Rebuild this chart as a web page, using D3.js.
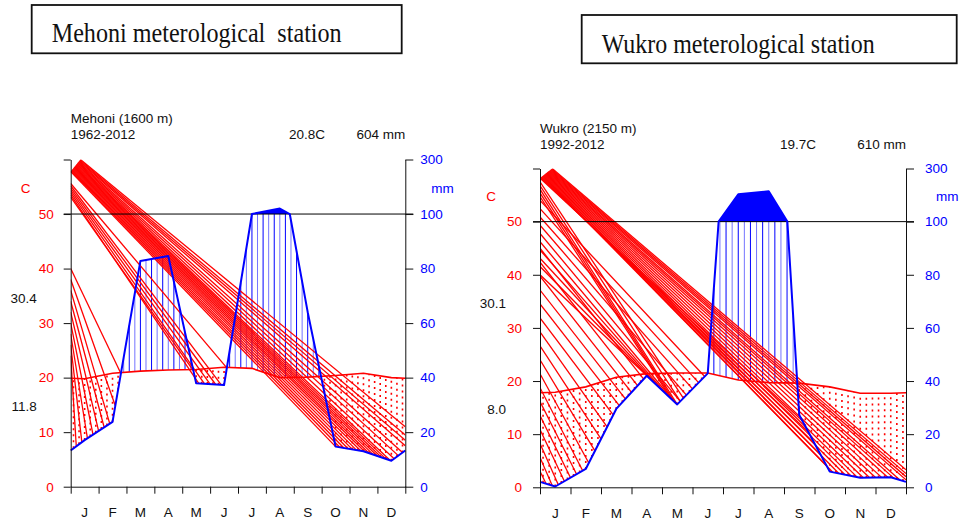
<!DOCTYPE html>
<html>
<head>
<meta charset="utf-8">
<script src="https://cdn.jsdelivr.net/npm/d3@7"></script>
<style>
  html, body { margin: 0; padding: 0; background: #fff; }
  svg { display: block; }
  text { font-family: "Liberation Sans", Arial, sans-serif; }
</style>
</head>
<body>
<svg id="chart" width="965" height="522"></svg>
<script>
// ---------------- data ----------------
const months = ["J","F","M","A","M","J","J","A","S","O","N","D"];
const tempTicks = [0, 10, 20, 30, 40, 50, 60];
const tempTickLabels = ["0", "10", "20", "30", "40", "50", ""];
const precTicks = [0, 20, 40, 60, 80, 100, 300];

const mehoniTemp = [19.8, 20.8, 21.2, 21.4, 21.5, 21.9, 21.7, 20.0, 20.1, 20.4, 20.8, 20.0];
const mehoniPrec = [17.1, 23.8, 82.8, 84.6, 37.9, 37.3, 100, 120, 64, 14.7, 13.0, 9.5];
const mehoniHeader = ["Mehoni (1600 m)", "1962-2012", "20.8C", "604 mm"];
const mehoniExtremes = ["30.4", "11.8"];
const mehoniTitle = "Mehoni meterological  station";

const wukroTemp = [17.9, 18.9, 20.7, 21.4, 21.5, 21.5, 20.2, 19.7, 19.6, 18.9, 17.7, 17.7];
const wukroPrec = [0.3, 6.9, 29.5, 42.0, 31.2, 42.9, 203, 214, 27.2, 5.9, 3.6, 3.8];
const wukroHeader = ["Wukro (2150 m)", "1992-2012", "19.7C", "610 mm"];
const wukroExtremes = ["30.1", "8.0"];
const wukroTitle = "Wukro meterological station";

// stray red strokes of the original rendering (data units: month, degC)
const mehoniStreaks = [
  { ends: [0.2, 1.8], step: 0.2, extra: [], from: [0, 24], to: [0, 40] },
  { ends: [4.4, 5.6], step: 0.2, extra: [], from: [0, 53.1], to: [0, 55.6] },
  { ends: [9.5, 11.9], step: 0.15, extra: [[12, 7.5], [12, 8.5], [12, 9.5], [12, 11]], from: [0, 57.8], to: [0.35, 60] }
];
const wukroStreaks = [
  { ends: [0.2, 3.4], step: 0.2, extra: [], from: [0, 3], to: [0, 45] },
  { ends: [3.6, 5.4], step: 0.2, extra: [], from: [0, 40], to: [0, 54] },
  { ends: [4.3, 4.7], step: 0.1, extra: [], from: [0, 54.7], to: [0, 57.5] },
  { ends: [8.6, 11.8], step: 0.2, extra: [[12, 1.4], [12, 2.0], [12, 2.6], [12, 3.3]], from: [0, 58.2], to: [0.4, 60] }
];

// ---------------- drawing ----------------
const svg = d3.select("#chart");
const RED = "#ff0000", BLUE = "#0000ff";

function titleBox(x, y, w, h, tx, ty, tlen, label) {
  svg.append("rect").attr("x", x).attr("y", y).attr("width", w).attr("height", h)
    .attr("fill", "none").attr("stroke", "#111").attr("stroke-width", 1.8);
  svg.append("text").attr("x", tx).attr("y", ty)
    .attr("font-family", "'Liberation Serif', 'Times New Roman', serif")
    .style("font-family", "'Liberation Serif', 'Times New Roman', serif")
    .attr("font-size", 27).attr("fill", "#111")
    .attr("textLength", tlen).attr("lengthAdjust", "spacingAndGlyphs")
    .style("white-space", "pre")
    .text(label);
}

titleBox(31.7, 5, 370, 48.3, 51.7, 42.3, 290, mehoniTitle);
titleBox(581.7, 15, 375, 48.3, 601.7, 52.7, 273, wukroTitle);

function drawDiagram(cfg) {
  const { L, R, top, y0, temp, prec, header, extremes, streaks, id } = cfg;
  const g = svg.append("g");
  const x = d3.scaleLinear().domain([0, 12]).range([L, R]);
  const yT = d3.scaleLinear().domain([0, 60]).range([y0, top]);
  const yP = d3.scaleLinear().domain([0, 100, 300]).range([y0, yT(50), yT(60)]);

  const xs = [0, ...d3.range(12).map(i => i + 0.5), 12];
  const tEdge = (temp[11] + temp[0]) / 2, pEdge = (prec[11] + prec[0]) / 2;
  const tv = [tEdge, ...temp, tEdge];
  const pv = [pEdge, ...prec, pEdge];
  function at(vals, m) {
    let i = 0;
    while (i < xs.length - 2 && m > xs[i + 1]) i++;
    const f = (m - xs[i]) / (xs[i + 1] - xs[i]);
    return vals[i] + (vals[i + 1] - vals[i]) * f;
  }

  const clipId = "clip-" + id;
  svg.append("clipPath").attr("id", clipId).append("rect")
    .attr("x", L).attr("y", top).attr("width", R - L).attr("height", y0 - top);

  const ppts = [];
  for (let i = 0; i < xs.length; i++) {
    ppts.push([xs[i], pv[i]]);
    if (i < xs.length - 1 && (pv[i] - 100) * (pv[i + 1] - 100) < 0) {
      const f = (100 - pv[i]) / (pv[i + 1] - pv[i]);
      ppts.push([xs[i] + f * (xs[i + 1] - xs[i]), 100]);
    }
  }

  const hatchX = d3.range(60).map(k => 0.1 + 0.2 * k);
  const humid = [], arid = [];
  hatchX.forEach((m, k) => {
    const t = at(tv, m), p = at(pv, m);
    const yt = yT(t), yp = yP(p);
    if (yp < yt) humid.push({ m, y1: yt, y2: yP(Math.min(p, 100)), k });
    else arid.push({ m, y1: yp, y2: yt });
  });

  g.append("g").selectAll("line").data(humid).join("line")
    .attr("x1", d => x(d.m)).attr("x2", d => x(d.m))
    .attr("y1", d => d.y1).attr("y2", d => d.y2)
    .attr("stroke", BLUE).attr("stroke-width", 1)
    .attr("stroke-opacity", d => (d.k % 2 ? 0.55 : 1));

  const area = d3.area().x(d => x(d[0])).y0(yP(100)).y1(d => yP(Math.max(d[1], 100)));
  g.append("path").datum(ppts).attr("d", area).attr("fill", BLUE).attr("stroke", "none");

  g.append("g").selectAll("line").data(arid).join("line")
    .attr("x1", d => x(d.m)).attr("x2", d => x(d.m))
    .attr("y1", d => d.y1).attr("y2", d => d.y2)
    .attr("stroke", RED).attr("stroke-width", 1.6)
    .attr("stroke-dasharray", "2 4");

  const segs = [];
  streaks.forEach(b => {
    const n0 = Math.round((b.ends[1] - b.ends[0]) / b.step);
    const ends = d3.range(n0 + 1).map(i => {
      const m = b.ends[0] + i * b.step;
      return [x(m), yP(at(pv, m))];
    });
    b.extra.forEach(e => ends.push([x(e[0]), yT(e[1])]));
    const n = ends.length;
    ends.forEach((e, i) => {
      const f = n > 1 ? i / (n - 1) : 0;
      const sm = b.from[0] + (b.to[0] - b.from[0]) * f;
      const st = b.from[1] + (b.to[1] - b.from[1]) * f;
      segs.push({ x1: x(sm), y1: yT(st), x2: e[0], y2: e[1] });
    });
  });
  g.append("g").attr("clip-path", `url(#${clipId})`)
    .selectAll("line").data(segs).join("line")
    .attr("x1", d => d.x1).attr("y1", d => d.y1)
    .attr("x2", d => d.x2).attr("y2", d => d.y2)
    .attr("stroke", RED).attr("stroke-width", 1.3);

  g.append("line").attr("x1", L - 7).attr("x2", R + 8)
    .attr("y1", yT(50)).attr("y2", yT(50))
    .attr("stroke", "#000").attr("stroke-width", 1);

  const tline = d3.line().x((d, i) => x(xs[i])).y(d => yT(d));
  g.append("path").datum(tv).attr("d", tline)
    .attr("fill", "none").attr("stroke", RED).attr("stroke-width", 1.6);

  const pline = d3.line().x(d => x(d[0])).y(d => yP(d[1]));
  g.append("path").datum(ppts).attr("d", pline)
    .attr("fill", "none").attr("stroke", BLUE).attr("stroke-width", 2)
    .attr("stroke-linejoin", "round");

  const left = g.append("g").attr("transform", `translate(${L},0)`)
    .call(d3.axisLeft(yT).tickValues(tempTicks)
      .tickFormat((d, i) => tempTickLabels[i]).tickSize(7).tickSizeOuter(0).tickPadding(cfg.lpad));
  const right = g.append("g").attr("transform", `translate(${R},0)`)
    .call(d3.axisRight(yP).tickValues(precTicks).tickSize(8).tickSizeOuter(0).tickPadding(cfg.rpad));
  const bottom = g.append("g").attr("transform", `translate(0,${y0})`)
    .call(d3.axisBottom(x).tickValues(d3.range(13)).tickFormat("").tickSize(7).tickSizeOuter(0));
  [left, right, bottom].forEach(a => {
    a.selectAll("path, line").attr("stroke", "#111");
    a.selectAll("text").attr("font-size", 13.5).style("font-family", "'Liberation Sans', Arial, sans-serif");
  });
  left.selectAll("text").attr("fill", RED);
  right.selectAll("text").attr("fill", BLUE);

  g.append("g").selectAll("text").data(months).join("text")
    .attr("x", (d, i) => x(i + 0.5)).attr("y", y0 + cfg.mlab)
    .attr("text-anchor", "middle").attr("font-size", 13.5).attr("fill", "#111")
    .text(d => d);

  g.append("text").attr("x", L - cfg.cOff).attr("y", yT(54.7)).attr("dy", "0.35em")
    .attr("text-anchor", "middle").attr("font-size", 13.5).attr("fill", RED).text("C");
  g.append("text").attr("x", R + cfg.mmOff).attr("y", yT(54.7)).attr("dy", "0.35em")
    .attr("font-size", 13.5).attr("fill", BLUE).text("mm");

  g.append("text").attr("x", L - 34).attr("y", yT(34.6)).attr("dy", "0.35em")
    .attr("text-anchor", "end").attr("font-size", 13.5).attr("fill", "#111").text(extremes[0]);
  g.append("text").attr("x", L - 34).attr("y", yT(14.75)).attr("dy", "0.35em")
    .attr("text-anchor", "end").attr("font-size", 13.5).attr("fill", "#111").text(extremes[1]);

  g.append("text").attr("x", L).attr("y", cfg.h1).attr("font-size", 13.5).attr("fill", "#111").text(header[0]);
  g.append("text").attr("x", L).attr("y", cfg.h2).attr("font-size", 13.5).attr("fill", "#111").text(header[1]);
  g.append("text").attr("x", cfg.tx).attr("y", cfg.h2).attr("font-size", 13.5).attr("fill", "#111").text(header[2]);
  g.append("text").attr("x", R).attr("y", cfg.h2).attr("text-anchor", "end")
    .attr("font-size", 13.5).attr("fill", "#111").text(header[3]);
}

drawDiagram({
  id: "mehoni", L: 70.7, R: 405.3, top: 159.5, y0: 486.7,
  temp: mehoniTemp, prec: mehoniPrec, header: mehoniHeader, extremes: mehoniExtremes,
  streaks: mehoniStreaks, lpad: 10, rpad: 7, mlab: 30, cOff: 45, mmOff: 26,
  h1: 122.5, h2: 139.3, tx: 289
});
drawDiagram({
  id: "wukro", L: 540, R: 906, top: 168.5, y0: 487.3,
  temp: wukroTemp, prec: wukroPrec, header: wukroHeader, extremes: wukroExtremes,
  streaks: wukroStreaks, lpad: 11, rpad: 11, mlab: 31, cOff: 49, mmOff: 30,
  h1: 133.3, h2: 149.3, tx: 780
});
</script>
</body>
</html>
